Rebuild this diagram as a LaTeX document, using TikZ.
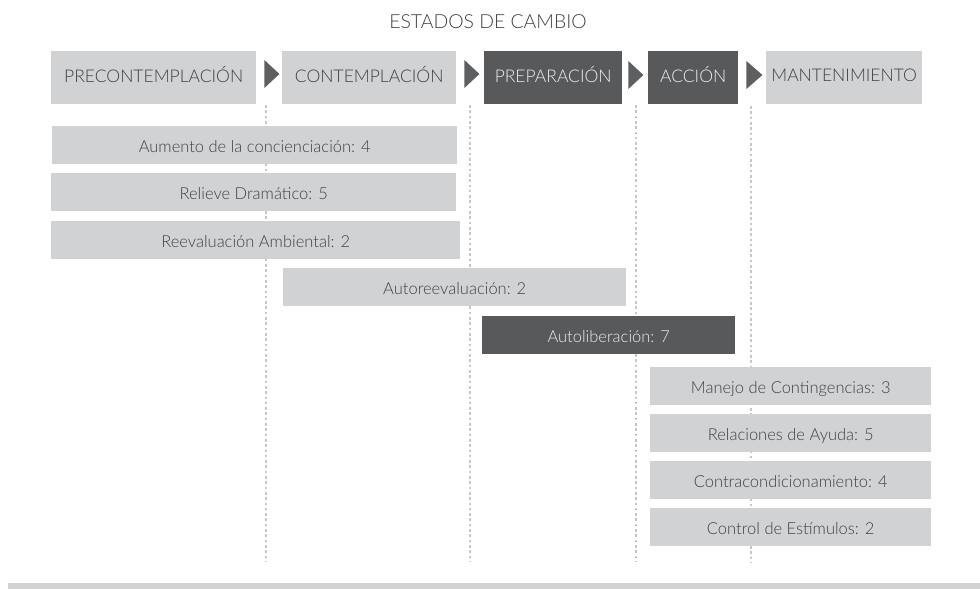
\documentclass[tikz,border=0pt]{standalone}
\usepackage{fontspec}
\setmainfont{Lato}[UprightFont = * Light]
\usetikzlibrary{calc}
\definecolor{lg}{HTML}{D1D2D4}
\definecolor{dg}{HTML}{58595B}
\definecolor{tx}{HTML}{414042}
\definecolor{wt}{HTML}{EEEEEE}
\definecolor{dotc}{HTML}{C6C7C9}
\definecolor{arr}{HTML}{5E5F61}
\tikzset{
  hdr/.style={inner sep=0pt, anchor=north west, font=\fontsize{17.5}{20}\selectfont,
    text height=13pt, text depth=3pt, minimum height=53pt},
  hlight/.style={hdr, fill=lg, text=tx},
  hdark/.style={hdr, fill=dg, text=wt},
  row/.style={inner sep=0pt, anchor=north west, font=\fontsize{16.5}{19}\selectfont,
    text height=16pt, text depth=2pt, minimum height=38pt},
  rlight/.style={row, fill=lg, text=tx},
  rdark/.style={row, fill=dg, text=wt},
  dotline/.style={draw=dotc, line width=2.6pt, dash pattern=on 2.6pt off 2.7pt},
  tri/.style={fill=arr},
}
\begin{document}
\begin{tikzpicture}[x=1pt,y=-1pt]
\useasboundingbox (0,0) rectangle (980,589);

% dotted guide lines
\coordinate (d1t) at (266,105); \coordinate (d1b) at (266,562);
\coordinate (d2t) at (470,105); \coordinate (d2b) at (470,562);
\coordinate (d3t) at (636,105); \coordinate (d3b) at (636,562);
\coordinate (d4t) at (751,106); \coordinate (d4b) at (751,562);
\draw[dotline] (d1t) -- (d1b);
\draw[dotline] (d2t) -- (d2b);
\draw[dotline] (d3t) -- (d3b);
\draw[dotline] (d4t) -- (d4b);

% title
\node[font=\fontsize{19.4}{22}\selectfont, text=tx, anchor=base] (title) at (488,28) {ESTADOS DE CAMBIO};

% header stages
\node[hlight, minimum width=205pt] (pre) at (51,51) {PRECONTEMPLACIÓN};
\node[hlight, minimum width=174pt] (con) at (282,51) {CONTEMPLACIÓN};
\node[hdark,  minimum width=138pt] (prep) at (484,51) {PREPARACIÓN};
\node[hdark,  minimum width=90pt]  (acc) at (648,51) {ACCIÓN};
\node[hlight, minimum width=156pt, text height=11pt, text depth=4pt] (man) at (766,51) {MANTENIMIENTO};

% arrows between stages
\fill[tri] ($(pre.north east)+(8,9)$) -- ++(0,28) -- ++(15,-14) -- cycle;
\fill[tri] ($(con.north east)+(8,9)$) -- ++(0,28) -- ++(15,-14) -- cycle;
\fill[tri] ($(prep.north east)+(6,10)$) -- ++(0,28) -- ++(15,-14) -- cycle;
\fill[tri] ($(acc.north east)+(8,10)$) -- ++(0,28) -- ++(16,-14) -- cycle;

% processes
\node[rlight, minimum width=405pt] (aum) at (52,126) {Aumento de la concienciación: 4};
\node[rlight, minimum width=405pt] (rel) at (51,173) {Relieve Dramático: 5};
\node[rlight, minimum width=409pt] (ree) at (51,221) {Reevaluación Ambiental: 2};
\node[rlight, minimum width=343pt] (aut) at (283,268) {Autoreevaluación: 2};
\node[rdark,  minimum width=253pt] (lib) at (482,316) {Autoliberación: 7};
\node[rlight, minimum width=281pt] (mc) at (650,367) {Manejo de Contingencias: 3};
\node[rlight, minimum width=281pt] (ra) at (650,414) {Relaciones de Ayuda: 5};
\node[rlight, minimum width=281pt] (cc) at (650,461) {Contracondicionamiento: 4};
\node[rlight, minimum width=281pt] (ce) at (650,508) {Control de Estímulos: 2};

% bottom bar
\fill[lg] (8,583) rectangle (980,589);
\end{tikzpicture}
\end{document}
